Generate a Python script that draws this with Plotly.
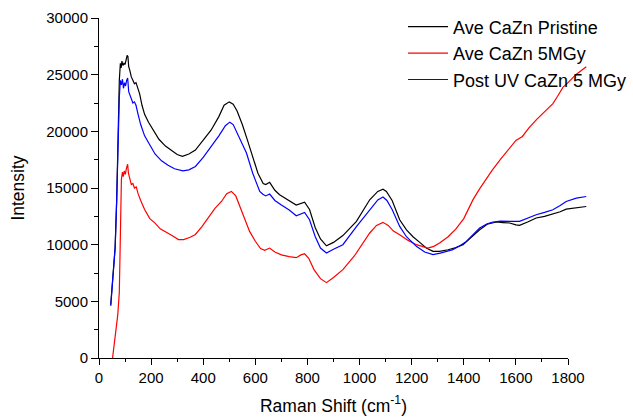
import plotly.graph_objects as go

# ---- data ----
black_x = [45, 55, 62, 68, 73, 78, 82, 85, 88, 92, 96, 100, 104, 108, 111, 114, 118, 124, 130, 136, 142, 148, 156, 165, 175, 190, 210, 230, 255, 280, 300, 320, 345, 370, 400, 430, 460, 480, 500, 515, 530, 550, 570, 590, 610, 630, 640, 655, 675, 693, 720, 757, 789, 808, 830, 850, 873, 900, 936, 988, 1039, 1070, 1090, 1103, 1125, 1154, 1180, 1205, 1231, 1256, 1282, 1307, 1340, 1370, 1397, 1430, 1461, 1490, 1525, 1550, 1576, 1600, 1614, 1645, 1678, 1710, 1742, 1770, 1793, 1830, 1870]
black_y = [4700, 7500, 9800, 14000, 20000, 24500, 26000, 25600, 26200, 25800, 26000, 25900, 26300, 26700, 26600, 25700, 25400, 24800, 24500, 24200, 24300, 23800, 23300, 22300, 21500, 20800, 20000, 19300, 18700, 18300, 17950, 17800, 18000, 18350, 19200, 20100, 21300, 22300, 22600, 22400, 21800, 20600, 19200, 17800, 16300, 15400, 15300, 15500, 14800, 14400, 14000, 13500, 13750, 13100, 11500, 10500, 9900, 10200, 10800, 12050, 13960, 14700, 14900, 14700, 13900, 12200, 11300, 10700, 10200, 9710, 9410, 9410, 9550, 9750, 10000, 10700, 11320, 11800, 12000, 11950, 11910, 11750, 11700, 12000, 12350, 12500, 12700, 12900, 13140, 13250, 13370]

red_x = [52, 58, 65, 72, 78, 82, 86, 90, 93, 97, 101, 105, 110, 113, 118, 124, 130, 136, 143, 150, 160, 175, 195, 215, 235, 255, 280, 305, 325, 350, 370, 395, 420, 445, 470, 490, 508, 525, 553, 578, 600, 620, 636, 655, 675, 700, 730, 757, 775, 789, 805, 825, 850, 873, 900, 936, 980, 1039, 1065, 1090, 1110, 1130, 1154, 1185, 1218, 1240, 1262, 1285, 1307, 1340, 1370, 1400, 1435, 1460, 1487, 1510, 1540, 1570, 1600, 1625, 1650, 1680, 1710, 1742, 1760, 1781, 1800, 1830, 1870]
red_y = [0, 1000, 2200, 3800, 5800, 10000, 15800, 16400, 16000, 16500, 16200, 16700, 17100, 16300, 15800, 15300, 15400, 15000, 15100, 14500, 13900, 13100, 12300, 11900, 11400, 11100, 10800, 10450, 10450, 10650, 10900, 11600, 12350, 13200, 13810, 14500, 14700, 14300, 12640, 11170, 10300, 9650, 9500, 9700, 9350, 9100, 8950, 8850, 9100, 9200, 8800, 7800, 7000, 6650, 7100, 7800, 9000, 11030, 11700, 11970, 11700, 11200, 10880, 10400, 10000, 9850, 9700, 9850, 10150, 10700, 11400, 12300, 13950, 14900, 15880, 16600, 17500, 18400, 19200, 19550, 20300, 21050, 21700, 22450, 23100, 23900, 24300, 25000, 25700]

blue_x = [45, 55, 62, 68, 73, 78, 82, 86, 90, 94, 98, 102, 106, 110, 114, 118, 124, 130, 136, 142, 150, 160, 175, 195, 215, 240, 265, 290, 322, 345, 370, 400, 430, 460, 485, 502, 515, 530, 550, 566, 590, 617, 629, 640, 655, 675, 700, 730, 757, 789, 808, 830, 850, 873, 900, 936, 988, 1039, 1070, 1090, 1105, 1125, 1154, 1180, 1218, 1250, 1282, 1310, 1358, 1385, 1410, 1440, 1461, 1490, 1512, 1540, 1563, 1590, 1614, 1645, 1678, 1710, 1742, 1770, 1793, 1832, 1870]
blue_y = [4600, 7400, 9700, 14000, 19000, 23000, 24500, 24100, 24600, 23800, 24300, 24000, 24500, 24700, 23500, 23200, 22900, 22500, 22600, 22300, 21500, 20600, 19600, 18800, 18000, 17400, 17000, 16700, 16520, 16600, 16900, 17700, 18600, 19600, 20500, 20810, 20600, 19900, 18900, 18080, 16300, 14700, 14450, 14300, 14470, 13900, 13500, 13050, 12550, 12850, 12200, 10700, 9700, 9270, 9600, 10000, 11600, 13080, 13950, 14200, 13900, 13100, 11610, 10700, 9850, 9350, 9120, 9250, 9560, 9900, 10290, 11000, 11470, 11850, 12000, 12080, 12050, 12050, 12050, 12350, 12640, 12850, 13080, 13450, 13810, 14110, 14250]

names = ["Ave CaZn Pristine", "Ave CaZn 5MGy", "Post UV CaZn 5 MGy"]
colors = ["#000000", "#ff0000", "#0000ff"]

x_tick_vals = list(range(0, 1801, 200))
y_tick_vals = list(range(0, 30001, 5000))

# layout geometry
W, H = 633, 418
ML, MR, MT, MB = 99, 43, 18, 60
plot_w = W - ML - MR
plot_h = H - MT - MB
axis_px = 469  # pixel length of the 0..1800 axis
frac = axis_px / plot_w
x2_max = 1800 / frac

FONT = "Arial, Liberation Sans, sans-serif"

fig = go.Figure()
# empty trace so the visible 0..1800 axis is drawn
fig.add_trace(go.Scatter(x=[None], y=[None], xaxis="x", yaxis="y", mode="lines",
                         showlegend=False, hoverinfo="skip"))
for xs, ys, nm, c in [(black_x, black_y, names[0], colors[0]),
                      (red_x, red_y, names[1], colors[1]),
                      (blue_x, blue_y, names[2], colors[2])]:
    fig.add_trace(go.Scatter(x=xs, y=ys, name=nm, mode="lines",
                             line=dict(color=c, width=1.2),
                             xaxis="x2", yaxis="y"))

fig.update_layout(
    width=W, height=H,
    margin=dict(l=ML, r=MR, t=MT, b=MB, pad=0, autoexpand=False),
    paper_bgcolor="white", plot_bgcolor="white",
    font=dict(family=FONT, color="black", size=15),
    showlegend=True,
    legend=dict(x=(403 - ML) / plot_w, y=1 + (18 - 8.5) / plot_h, xanchor="left", yanchor="top",
                font=dict(size=18, family=FONT), bgcolor="rgba(0,0,0,0)",
                borderwidth=0, tracegroupgap=0, itemwidth=40),
    xaxis=dict(domain=[0, frac], range=[0, 1800], anchor="y", automargin=False,
               tickvals=x_tick_vals, ticktext=[str(v) for v in x_tick_vals],
               ticks="outside", ticklen=6, tickwidth=1, tickcolor="black",
               showline=True, linecolor="black", linewidth=1,
               showgrid=False, zeroline=False,
               minor=dict(dtick=100, ticks="outside", ticklen=3, tickcolor="black", showgrid=False),
               tickfont=dict(size=15, family=FONT),
               title=dict(text="Raman Shift (cm<sup>-1</sup>)", font=dict(size=17.5, family=FONT), standoff=14)),
    xaxis2=dict(domain=[0, 1], range=[0, x2_max], anchor="y", visible=False,
                showgrid=False, zeroline=False),
    yaxis=dict(range=[0, 30000], anchor="x", automargin=False,
               tickvals=y_tick_vals, ticktext=[str(v) for v in y_tick_vals],
               ticks="outside", ticklen=7, tickwidth=1, tickcolor="black",
               showline=True, linecolor="black", linewidth=1,
               showgrid=False, zeroline=False,
               minor=dict(dtick=2500, ticks="outside", ticklen=4, tickcolor="black", showgrid=False),
               tickfont=dict(size=15, family=FONT),
               title=dict(text="Intensity", font=dict(size=17.5, family=FONT), standoff=17)),
)

fig.write_html("out.html")
